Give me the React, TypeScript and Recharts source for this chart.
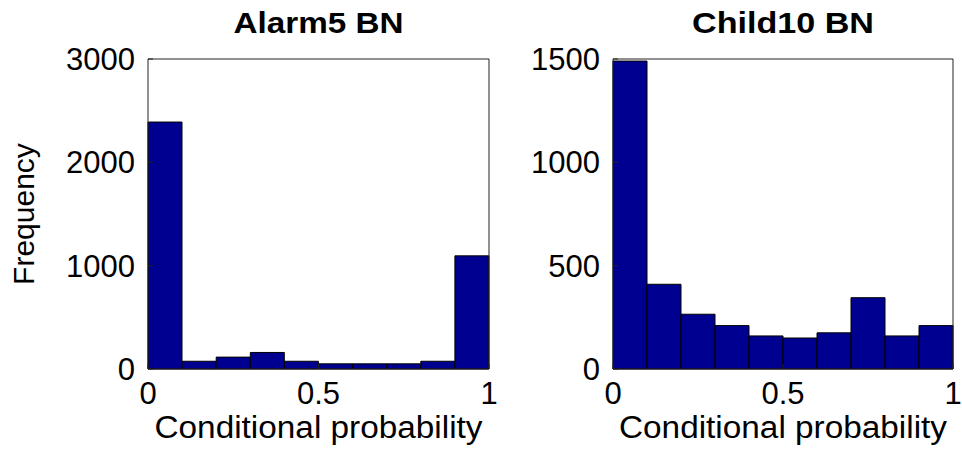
import React from 'react';
import { BarChart, Bar, XAxis, YAxis, Label } from 'recharts';

// histogram bins (10 equal bins over [0, 1])
const binCenters = [0.05, 0.15, 0.25, 0.35, 0.45, 0.55, 0.65, 0.75, 0.85, 0.95];
const alarm5Counts = [2390, 75, 115, 160, 75, 50, 50, 50, 75, 1095];
const child10Counts = [1490, 410, 265, 210, 160, 150, 175, 345, 160, 210];

const xTicks = [0, 0.5, 1];
const alarm5Ticks = [0, 1000, 2000, 3000];
const child10Ticks = [0, 500, 1000, 1500];

const FONT = '"Liberation Sans", Arial, Helvetica, sans-serif';
const BAR_FILL = '#000090';
const AXIS = '#222';

interface HistProps {
  title: string;
  titleWidth: number;
  counts: number[];
  yTicks: number[];
  width: number;
  yAxisWidth: number;
  marginRight: number;
  showYLabel?: boolean;
}

const Hist: React.FC<HistProps> = ({ title, titleWidth, counts, yTicks, width, yAxisWidth, marginRight, showYLabel }) => {
  const data = binCenters.map((x, i) => ({ x, count: counts[i] }));
  const yMax = yTicks[yTicks.length - 1];

  return (
    <BarChart
      width={width}
      height={455}
      data={data}
      barCategoryGap={0}
      margin={{ top: 58, right: marginRight, bottom: 0, left: 0 }}
    >
      <XAxis
        xAxisId="b"
        dataKey="x"
        type="number"
        domain={[0, 1]}
        ticks={xTicks}
        height={86}
        tickSize={-5}
        tickMargin={18}
        stroke={AXIS}
        tick={{ fill: '#000', fontSize: 31, fontFamily: FONT }}
        tickFormatter={(v: number) => String(v)}
      >
        <Label
          position="insideBottom"
          content={({ viewBox }: any) => (
            <text
              x={viewBox.x + viewBox.width / 2}
              y={viewBox.y + viewBox.height - 17}
              textAnchor="middle"
              fontSize={31}
              fontFamily={FONT}
              fill="#000"
              textLength={328}
              lengthAdjust="spacingAndGlyphs"
            >
              Conditional probability
            </text>
          )}
        />
      </XAxis>
      <XAxis
        xAxisId="t"
        orientation="top"
        dataKey="x"
        type="number"
        domain={[0, 1]}
        ticks={xTicks}
        height={1}
        tickSize={-5}
        tick={false}
        stroke={AXIS}
      >
        <Label
          position="top"
          content={({ viewBox }: any) => (
            <text
              x={viewBox.x + viewBox.width / 2}
              y={33}
              textAnchor="middle"
              fontSize={30}
              fontWeight="bold"
              fontFamily={FONT}
              fill="#000"
              textLength={titleWidth}
              lengthAdjust="spacingAndGlyphs"
            >
              {title}
            </text>
          )}
        />
      </XAxis>
      <YAxis
        yAxisId="l"
        type="number"
        domain={[0, yMax]}
        ticks={yTicks}
        width={yAxisWidth}
        tickSize={-5}
        tickMargin={18}
        stroke={AXIS}
        tick={{ fill: '#000', fontSize: 31, fontFamily: FONT }}
      >
        {showYLabel && (
          <Label
            position="insideLeft"
            content={({ viewBox }: any) => {
              const cx = 23;
              const cy = viewBox.y + viewBox.height / 2;
              return (
                <text
                  x={cx}
                  y={cy}
                  transform={`rotate(-90, ${cx}, ${cy})`}
                  textAnchor="middle"
                  dominantBaseline="central"
                  fontSize={30}
                  fontFamily={FONT}
                  fill="#000"
                >
                  Frequency
                </text>
              );
            }}
          />
        )}
      </YAxis>
      <YAxis
        yAxisId="r"
        orientation="right"
        type="number"
        domain={[0, yMax]}
        ticks={yTicks}
        width={1}
        tickSize={-5}
        tick={false}
        stroke={AXIS}
      />
      <Bar
        xAxisId="b"
        yAxisId="l"
        dataKey="count"
        fill={BAR_FILL}
        stroke="#000"
        strokeWidth={1}
        isAnimationActive={false}
      />
    </BarChart>
  );
};

export default function App() {
  return (
    <div style={{ position: 'absolute', left: 0, top: 0, width: 962, height: 455, background: '#fff' }}>
      <div style={{ position: 'absolute', left: 0, top: 0 }}>
        <Hist
          title="Alarm5 BN"
          titleWidth={170}
          counts={alarm5Counts}
          yTicks={alarm5Ticks}
          width={500}
          yAxisWidth={148}
          marginRight={10}
          showYLabel
        />
      </div>
      <div style={{ position: 'absolute', left: 480, top: 0 }}>
        <Hist
          title="Child10 BN"
          titleWidth={182}
          counts={child10Counts}
          yTicks={child10Ticks}
          width={482}
          yAxisWidth={133}
          marginRight={8}
        />
      </div>
    </div>
  );
}
